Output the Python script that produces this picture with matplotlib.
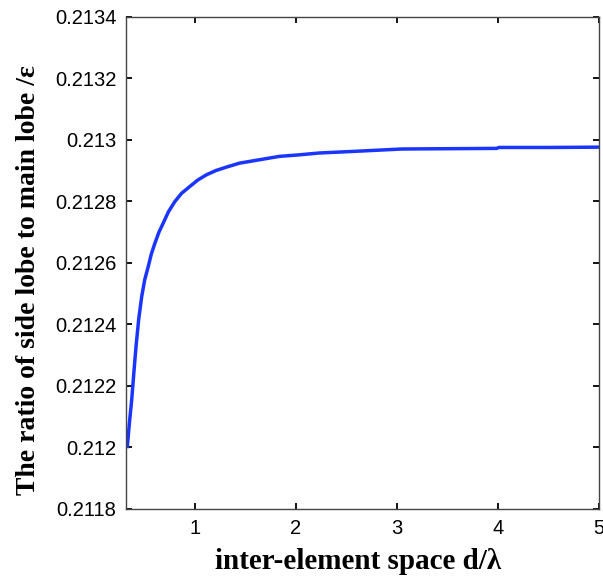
import numpy as np
import matplotlib.pyplot as plt
from matplotlib.ticker import FuncFormatter

# Data
d_lambda = [0.333, 0.355, 0.376, 0.398, 0.419, 0.445, 0.475, 0.505, 0.540,
            0.570, 0.606, 0.645, 0.688, 0.740, 0.803, 0.870, 0.951, 1.030,
            1.115, 1.210, 1.312, 1.443, 1.640, 1.837, 2.034, 2.232, 2.557,
            3.05, 3.5, 3.99, 4.01, 4.5, 5.0]
ratio = [0.212003, 0.212085, 0.212154, 0.212245, 0.212328, 0.212415,
         0.212490, 0.212545, 0.212588, 0.212628, 0.212664, 0.212699,
         0.212729, 0.212766, 0.212799, 0.212826, 0.212848, 0.212869,
         0.212886, 0.212900, 0.212911, 0.212924, 0.212935, 0.212946,
         0.212951, 0.212957, 0.212962, 0.212970, 0.212971, 0.212972,
         0.212975, 0.212975, 0.212976]

x_ticks = [1, 2, 3, 4, 5]
y_ticks = [0.2118, 0.212, 0.2122, 0.2124, 0.2126, 0.2128, 0.213, 0.2132, 0.2134]

fig = plt.figure(figsize=(6.03, 5.77), dpi=100)
ax = fig.add_axes([0.209, 0.118, 0.784, 0.853])

ax.plot(d_lambda, ratio, color='#1a35ff', linewidth=2.5)

ax.set_xlim(0.32, 5)
ax.set_ylim(0.2118, 0.2134)
ax.set_xticks(x_ticks)
ax.set_yticks(y_ticks)
ax.yaxis.set_major_formatter(FuncFormatter(lambda v, p: f'{v:.4f}'.rstrip('0')))

ax.tick_params(direction='in', top=True, right=True, length=4, width=1.3,
               labelsize=14.5, colors='black', pad=7)
for lab in ax.get_xticklabels() + ax.get_yticklabels():
    lab.set_family('Liberation Sans')
for s in ax.spines.values():
    s.set_color('#444444')
    s.set_linewidth(1.0)

ax.set_xlabel('inter-element space d/\u03bb', fontsize=21, fontweight='bold',
              family='Liberation Serif', labelpad=8)
ax.set_ylabel('The ratio of side lobe to main lobe /\u03b5', fontsize=20,
              fontweight='bold', family='Liberation Serif')
ax.yaxis.set_label_coords(-0.18, 0.465)
ax.xaxis.set_label_coords(0.49, -0.08)

fig.savefig('out.png', dpi=100)
